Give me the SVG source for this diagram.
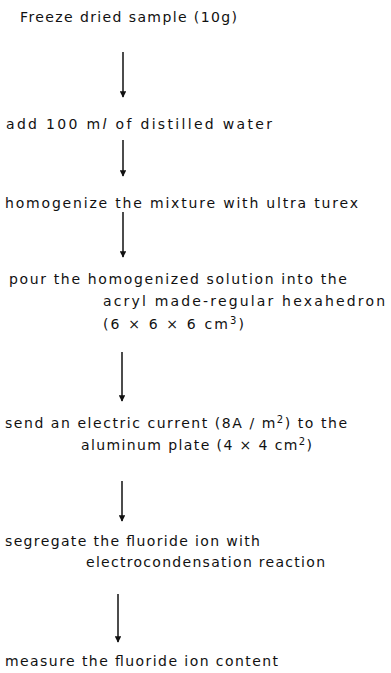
<svg xmlns="http://www.w3.org/2000/svg" width="391" height="673" viewBox="0 0 391 673">
<style>
text{font-family:"DejaVu Sans","Liberation Sans",sans-serif;font-size:14px;fill:#111}
.c line{stroke:#111;stroke-width:1.5}
</style>
<defs>
<marker id="ah" viewBox="0 0 10 10" refX="9" refY="5" markerWidth="4.2" markerHeight="4.2" orient="auto" markerUnits="strokeWidth">
<path d="M0,0 L10,5 L0,10 Z" fill="#111"/>
</marker>
</defs>
<rect width="391" height="673" fill="#fff"/>
<g id="n1"><text x="20" y="22" textLength="217" lengthAdjust="spacing">Freeze dried sample (10g)</text></g>
<g id="n2"><text x="6" y="129" textLength="266" lengthAdjust="spacing">add 100 m<tspan font-style="italic">l</tspan> of distilled water</text></g>
<g id="n3"><text x="5" y="208" textLength="353" lengthAdjust="spacing">homogenize the mixture with ultra turex</text></g>
<g id="n4">
<text x="9" y="284" textLength="338" lengthAdjust="spacing">pour the homogenized solution into the</text>
<text x="103" y="306" textLength="282" lengthAdjust="spacing">acryl made-regular hexahedron</text>
<text x="103" y="329" textLength="141" lengthAdjust="spacing">(6 × 6 × 6 cm<tspan dy="-5" font-size="10">3</tspan><tspan dy="5">)</tspan></text>
</g>
<g id="n5">
<text x="5" y="428" textLength="342" lengthAdjust="spacing">send an electric current (8A / m<tspan dy="-5" font-size="10">2</tspan><tspan dy="5">) to the</tspan></text>
<text x="81" y="450" textLength="231" lengthAdjust="spacing">aluminum plate (4 × 4 cm<tspan dy="-5" font-size="10">2</tspan><tspan dy="5">)</tspan></text>
</g>
<g id="n6">
<text x="5" y="546" textLength="255" lengthAdjust="spacing">segregate the fluoride ion with</text>
<text x="86" y="567" textLength="239" lengthAdjust="spacing">electrocondensation reaction</text>
</g>
<g id="n7"><text x="5" y="666" textLength="273" lengthAdjust="spacing">measure the fluoride ion content</text></g>
<g id="connectors" class="c">
<line x1="123" y1="52" x2="123" y2="97" marker-end="url(#ah)"/>
<line x1="123" y1="140" x2="123" y2="176" marker-end="url(#ah)"/>
<line x1="123" y1="212" x2="123" y2="257" marker-end="url(#ah)"/>
<line x1="122" y1="352" x2="122" y2="401" marker-end="url(#ah)"/>
<line x1="122" y1="481" x2="122" y2="521" marker-end="url(#ah)"/>
<line x1="118" y1="594" x2="118" y2="642" marker-end="url(#ah)"/>
</g>
</svg>
